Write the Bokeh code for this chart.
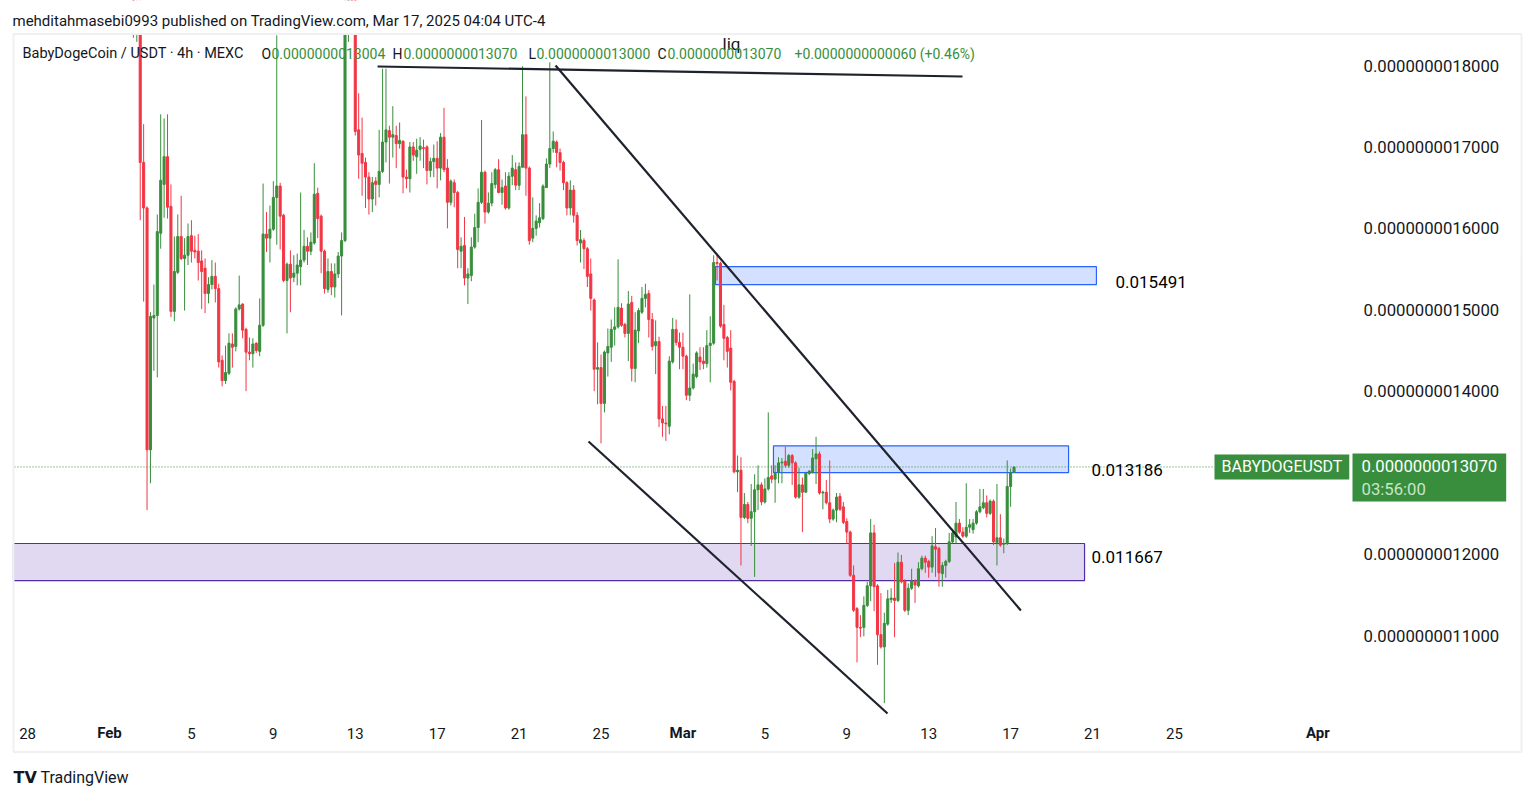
from bokeh.plotting import figure
from bokeh.models import (ColumnDataSource, FixedTicker, CustomJSTickFormatter, Label,
                          Range1d, LinearAxis)
from bokeh.embed import file_html
from bokeh.resources import INLINE
from bokeh.core.properties import value

# ---------------- data (prices in units of 1e-12 USDT, i.e. 1307 = 0.0000000013070) -------------
opens = [
    1880, 1850, 1860, 1681, 1625, 1328, 1490, 1493, 1594, 1654,
    1688, 1627, 1498, 1546, 1590, 1563, 1567, 1591, 1573, 1572,
    1560, 1551, 1520, 1531, 1541, 1526, 1438, 1413, 1422, 1458,
    1455, 1501, 1507, 1476, 1448, 1446, 1459, 1449, 1481, 1593,
    1588, 1599, 1638, 1652, 1616, 1536, 1556, 1540, 1545, 1553,
    1561, 1578, 1572, 1582, 1643, 1615, 1572, 1525, 1547, 1528,
    1544, 1566, 1585, 1870, 1900, 1880, 1721, 1692, 1681, 1663,
    1636, 1658, 1654, 1670, 1706, 1720, 1712, 1714, 1704, 1707,
    1663, 1661, 1700, 1688, 1697, 1699, 1700, 1671, 1682, 1686,
    1674, 1712, 1674, 1632, 1656, 1644, 1572, 1579, 1539, 1542,
    1577, 1601, 1632, 1669, 1620, 1631, 1654, 1672, 1644, 1652,
    1625, 1664, 1672, 1653, 1675, 1715, 1674, 1588, 1600, 1607,
    1612, 1650, 1679, 1698, 1706, 1693, 1681, 1656, 1625, 1647,
    1616, 1582, 1585, 1575, 1544, 1512, 1427, 1429, 1385, 1447,
    1454, 1476, 1479, 1502, 1482, 1471, 1509, 1428, 1474, 1497,
    1514, 1520, 1488, 1456, 1461, 1366, 1361, 1357, 1436, 1476,
    1460, 1454, 1443, 1395, 1404, 1418, 1442, 1437, 1434, 1456,
    1459, 1558, 1557, 1482, 1466, 1453, 1412, 1301, 1303, 1245,
    1261, 1244, 1252, 1279, 1285, 1264, 1280, 1296, 1292, 1301,
    1312, 1314, 1309, 1321, 1312, 1270, 1285, 1276, 1299, 1301,
    1317, 1323, 1275, 1276, 1263, 1243, 1254, 1271, 1258, 1240,
    1227, 1174, 1133, 1110, 1110, 1137, 1161, 1226, 1161, 1101,
    1086, 1114, 1144, 1146, 1143, 1190, 1167, 1131, 1158, 1167,
    1161, 1182, 1195, 1191, 1184, 1209, 1207, 1176, 1186, 1191,
    1215, 1221, 1238, 1227, 1222, 1233, 1230, 1238, 1252, 1257,
    1263, 1250, 1265, 1214, 1220, 1212, 1213, 1283, 1300.4,
]
highs = [
    1900, 1880, 1880, 1728, 1627, 1497, 1531, 1617, 1740, 1735,
    1740, 1654, 1590, 1617, 1640, 1588, 1606, 1610, 1591, 1593,
    1573, 1563, 1540, 1561, 1558, 1532, 1444, 1456, 1471, 1471,
    1503, 1542, 1508, 1478, 1466, 1465, 1460, 1514, 1655, 1620,
    1628, 1658, 1837, 1656, 1618, 1558, 1573, 1567, 1569, 1644,
    1598, 1589, 1595, 1680, 1650, 1617, 1574, 1563, 1557, 1557,
    1571, 1595, 1900, 1960, 1930, 1900, 1766, 1736, 1687, 1669,
    1663, 1663, 1721, 1796, 1796, 1726, 1750, 1726, 1730, 1708,
    1672, 1706, 1706, 1710, 1712, 1709, 1702, 1687, 1703, 1707,
    1717, 1748, 1685, 1660, 1660, 1646, 1589, 1614, 1551, 1589,
    1618, 1649, 1733, 1671, 1644, 1669, 1674, 1685, 1660, 1669,
    1669, 1690, 1681, 1681, 1799, 1762, 1676, 1638, 1616, 1631,
    1654, 1686, 1804, 1719, 1708, 1698, 1683, 1658, 1659, 1653,
    1620, 1598, 1588, 1577, 1563, 1514, 1460, 1445, 1450, 1477,
    1488, 1503, 1562, 1508, 1484, 1523, 1517, 1497, 1502, 1528,
    1532, 1524, 1496, 1487, 1467, 1382, 1382, 1443, 1490, 1488,
    1472, 1472, 1445, 1519, 1434, 1449, 1454, 1454, 1475, 1492,
    1567, 1569, 1559, 1506, 1468, 1475, 1414, 1321, 1319, 1275,
    1264, 1286, 1298, 1309, 1288, 1293, 1374, 1309, 1309, 1319,
    1318, 1332, 1323, 1323, 1314, 1306, 1294, 1301, 1303, 1329,
    1344, 1326, 1278, 1291, 1315, 1256, 1275, 1275, 1264, 1244,
    1229, 1186, 1135, 1125, 1148, 1166, 1243, 1236, 1163, 1152,
    1128, 1156, 1158, 1189, 1202, 1199, 1169, 1164, 1182, 1169,
    1190, 1198, 1198, 1193, 1222, 1232, 1209, 1190, 1193, 1226,
    1231, 1264, 1243, 1233, 1287, 1243, 1243, 1254, 1280, 1280,
    1272, 1267, 1267, 1286, 1249, 1219, 1315, 1305, 1307,
]
lows = [
    1834, 1829, 1610, 1510, 1254, 1287, 1425, 1417, 1575, 1613,
    1612, 1491, 1486, 1544, 1561, 1499, 1555, 1558, 1563, 1536,
    1501, 1496, 1508, 1525, 1509, 1429, 1406, 1409, 1420, 1429,
    1449, 1499, 1465, 1400, 1438, 1429, 1447, 1443, 1479, 1571,
    1558, 1597, 1580, 1574, 1534, 1471, 1497, 1534, 1530, 1530,
    1558, 1555, 1567, 1580, 1588, 1545, 1520, 1521, 1518, 1515,
    1539, 1493, 1583, 1829, 1850, 1714, 1661, 1640, 1625, 1617,
    1620, 1628, 1638, 1668, 1681, 1655, 1687, 1674, 1698, 1643,
    1649, 1644, 1683, 1667, 1683, 1674, 1654, 1663, 1663, 1649,
    1659, 1669, 1600, 1628, 1626, 1551, 1551, 1530, 1507, 1535,
    1575, 1583, 1630, 1606, 1618, 1627, 1649, 1643, 1629, 1623,
    1623, 1653, 1647, 1647, 1675, 1640, 1580, 1583, 1591, 1601,
    1610, 1650, 1674, 1693, 1675, 1671, 1647, 1616, 1616, 1607,
    1579, 1558, 1550, 1528, 1499, 1400, 1384, 1336, 1374, 1418,
    1436, 1456, 1477, 1479, 1466, 1437, 1412, 1411, 1459, 1495,
    1503, 1466, 1450, 1421, 1356, 1344, 1339, 1347, 1434, 1456,
    1427, 1427, 1389, 1388, 1402, 1416, 1426, 1427, 1429, 1411,
    1457, 1536, 1478, 1438, 1429, 1401, 1299, 1276, 1186, 1243,
    1238, 1210, 1172, 1254, 1260, 1262, 1278, 1287, 1263, 1287,
    1287, 1306, 1306, 1285, 1268, 1268, 1227, 1275, 1297, 1299,
    1286, 1273, 1255, 1261, 1238, 1241, 1239, 1253, 1237, 1213,
    1172, 1129, 1067, 1098, 1099, 1135, 1142, 1130, 1064, 1084,
    1017, 1112, 1140, 1098, 1141, 1164, 1129, 1125, 1156, 1140,
    1159, 1180, 1177, 1171, 1177, 1172, 1160, 1160, 1171, 1189,
    1213, 1213, 1225, 1220, 1220, 1226, 1225, 1236, 1250, 1255,
    1245, 1248, 1211, 1186, 1209, 1201, 1211, 1258, 1300,
]
closes = [
    1850, 1860, 1681, 1625, 1328, 1492, 1493, 1596, 1659, 1688,
    1626, 1498, 1547, 1590, 1563, 1567, 1590, 1572, 1571, 1558,
    1547, 1520, 1531, 1541, 1526, 1436, 1413, 1423, 1459, 1454,
    1501, 1506, 1475, 1448, 1446, 1458, 1450, 1481, 1593, 1588,
    1599, 1638, 1652, 1615, 1536, 1556, 1539, 1545, 1555, 1561,
    1578, 1572, 1583, 1642, 1612, 1572, 1526, 1547, 1528, 1544,
    1566, 1585, 1870, 1900, 1880, 1719, 1690, 1680, 1663, 1636,
    1656, 1654, 1670, 1706, 1721, 1712, 1715, 1704, 1708, 1663,
    1661, 1700, 1690, 1696, 1701, 1698, 1671, 1682, 1686, 1674,
    1712, 1672, 1632, 1658, 1644, 1574, 1578, 1539, 1544, 1577,
    1601, 1632, 1669, 1620, 1631, 1655, 1672, 1644, 1650, 1625,
    1664, 1674, 1653, 1676, 1715, 1674, 1585, 1600, 1609, 1613,
    1652, 1679, 1698, 1707, 1693, 1681, 1656, 1625, 1647, 1616,
    1585, 1586, 1575, 1541, 1514, 1427, 1429, 1385, 1448, 1455,
    1476, 1479, 1503, 1481, 1471, 1507, 1428, 1475, 1499, 1514,
    1519, 1488, 1455, 1461, 1366, 1361, 1360, 1437, 1476, 1460,
    1454, 1443, 1395, 1404, 1421, 1447, 1436, 1434, 1456, 1459,
    1558, 1557, 1480, 1465, 1449, 1411, 1301, 1303, 1245, 1261,
    1244, 1252, 1279, 1285, 1264, 1280, 1294, 1292, 1299, 1312,
    1313, 1309, 1321, 1312, 1270, 1285, 1276, 1299, 1302, 1318,
    1323, 1275, 1276, 1263, 1243, 1254, 1270, 1255, 1239, 1227,
    1174, 1131, 1110, 1109, 1137, 1161, 1226, 1160, 1101, 1086,
    1115, 1145, 1146, 1143, 1190, 1166, 1131, 1158, 1167, 1162,
    1182, 1195, 1190, 1184, 1210, 1206, 1177, 1186, 1191, 1215,
    1226, 1238, 1227, 1222, 1233, 1236, 1238, 1252, 1258, 1263,
    1250, 1265, 1215, 1220, 1211, 1213, 1283, 1300, 1307,
]

# time axis: days counted from Feb 1 00:00 (UTC-4)
last_bar_day = 44 + 4 / 24          # Mar 17 04:00
bar_len_day = 4 / 24                # 4h candles
day_ticks = [-4, 4, 8, 12, 16, 20, 24, 32, 36, 40, 44, 48, 52]
day_labels = ["28", "5", "9", "13", "17", "21", "25", "5", "9", "13", "17", "21", "25"]
month_ticks = [0, 28, 59]
month_labels = ["Feb", "Mar", "Apr"]
price_ticks = [1100, 1200, 1400, 1500, 1600, 1700, 1800]

# drawings (day, price)
zone_left = [29.59, 32.42, -4.69]
zone_right = [48.19, 46.83, 47.61]
zone_top = [1553, 1333, 1213]
zone_bottom = [1531, 1300, 1167.5]
zone_fill = ["#2962ff", "#2962ff", "#673ab7"]
zone_line = ["#2962ff", "#2962ff", "#512da8"]
level_text = ["0.015491", "0.013186", "0.011667"]
level_x = [49.12, 47.95, 47.95]
level_y = [1534.7, 1303.8, 1197.0]
trend_x0 = [13.09, 21.78, 23.39]
trend_y0 = [1798.8, 1800, 1338.3]
trend_x1 = [41.65, 44.50, 37.99]
trend_y1 = [1786.5, 1130.7, 1004.2]
last_price = 1307

FONT = "Roboto"
TXT = "#131722"
UP = "#388e3c"
DOWN = "#f23645"

# canvas geometry: the frame covers the whole canvas; pane/price scale/time scale live inside it
W, H = 1530, 794
PX_DAY = 20.48          # px per day
PX_PRICE = 0.8143       # px per 1e-12
FEB1_PX, P1800_PY = 109, 65


def dx(px):  # screen px -> day
    return (px - FEB1_PX) / PX_DAY


def dy(py):  # screen py -> price
    return 1800 - (py - P1800_PY) / PX_PRICE


n = min(len(opens), len(highs), len(lows), len(closes))
xs = [last_bar_day - (n - 1 - i) * bar_len_day for i in range(n)]
src = ColumnDataSource(dict(
    x=xs, o=opens[:n], h=highs[:n], l=lows[:n], c=closes[:n],
    top=[max(o, c) for o, c in zip(opens[:n], closes[:n])],
    bot=[min(o, c) for o, c in zip(opens[:n], closes[:n])],
    color=[UP if c >= o else DOWN for o, c in zip(opens[:n], closes[:n])],
))

p = figure(width=W, height=H, x_range=Range1d(dx(0), dx(W)), y_range=Range1d(dy(H), dy(0)),
           y_axis_location="right", output_backend="svg", toolbar_location=None,
           min_border=0, min_border_left=0, min_border_right=0, min_border_top=0,
           min_border_bottom=0, background_fill_color="white", border_fill_color="white",
           outline_line_color=None)
p.grid.visible = False

# axes (pinned at the pane edges)
p.yaxis.fixed_location = dx(1351)
p.yaxis.ticker = FixedTicker(ticks=price_ticks)
p.yaxis.formatter = CustomJSTickFormatter(code="return (tick*1e-12).toFixed(13);")
p.xaxis.fixed_location = dy(715)
p.xaxis.ticker = FixedTicker(ticks=day_ticks)
p.xaxis.formatter = CustomJSTickFormatter(
    args=dict(labels={str(t): s for t, s in zip(day_ticks, day_labels)}),
    code="const k = String(Math.round(tick)); return (k in labels) ? labels[k] : '';")
month_axis = LinearAxis(fixed_location=dy(715), ticker=FixedTicker(ticks=month_ticks),
                        formatter=CustomJSTickFormatter(
                            args=dict(labels={str(t): s for t, s in zip(month_ticks, month_labels)}),
                            code="const k = String(Math.round(tick)); return (k in labels) ? labels[k] : '';"))
p.add_layout(month_axis, "below")
for ax in (p.xaxis[0], month_axis, p.yaxis[0]):
    ax.axis_line_color = None
    ax.major_tick_line_color = None
    ax.minor_tick_line_color = None
    ax.major_tick_out = 0
    ax.major_tick_in = 0
    ax.minor_tick_out = 0
    ax.minor_tick_in = 0
    ax.major_label_text_font = FONT
    ax.major_label_text_color = TXT
p.yaxis.major_label_text_font_size = "16.7px"
p.yaxis.major_label_standoff = 12
for ax in (p.xaxis[0], month_axis):
    ax.major_label_text_font_size = "15px"
p.xaxis[0].major_label_standoff = 12
month_axis.major_label_standoff = 8
month_axis.major_label_text_font_style = "bold"

# zones
p.quad(left=zone_left, right=zone_right, top=zone_top, bottom=zone_bottom,
       fill_color=zone_fill, fill_alpha=0.2, line_color=zone_line, line_width=1.2)

# current price dotted line (stops at the symbol badge)
p.segment(x0=[dx(14)], y0=[last_price], x1=[dx(1214)], y1=[last_price],
          line_color=UP, line_dash="1 2", line_width=1)

# candles
p.segment(x0="x", y0="l", x1="x", y1="h", line_color="color", line_width=1, source=src)
p.vbar(x="x", width=0.1, top="top", bottom="bot", fill_color="color",
       line_color="color", line_width=1, source=src)

# trend lines
p.segment(x0=trend_x0, y0=trend_y0, x1=trend_x1, y1=trend_y1,
          line_color="#1e222d", line_width=2.2)

# "liq" note, cut by the top of the pane
p.text(x=[dx(731)], y=[dy(43)], text=["liq"], text_font=value(FONT), text_font_size="17px",
       text_color=TXT, text_align="center", text_baseline="alphabetic")

# pane top edge: hide what lies above the visible price range, then the pane border
p.quad(left=[dx(-10)], right=[dx(W + 10)], top=[dy(-10)], bottom=[dy(33.5)],
       fill_color="white", line_color=None)
p.quad(left=[dx(13)], right=[dx(1521)], top=[dy(33.5)], bottom=[dy(751.5)],
       fill_color=None, line_color="#eef0f4", line_width=2)

# level labels
for t, lx, ly in zip(level_text, level_x, level_y):
    p.add_layout(Label(x=lx, y=ly, text=t, text_font=FONT, text_font_size="17px",
                       text_color="#000000", text_baseline="middle", text_align="left"))

# legend header inside the pane
hdr_y = dy(53)
p.add_layout(Label(x=dx(22), y=hdr_y, text="BabyDogeCoin / USDT · 4h · MEXC",
                   text_font=FONT, text_font_size="14.5px", text_color=TXT,
                   text_baseline="middle"))
hdr_parts = [("O", 261, "0.0000000013004", 271),
             ("H", 392, "0.0000000013070", 403),
             ("L", 528, "0.0000000013000", 536),
             ("C", 657, "0.0000000013070", 667)]
for k, kx, v, vx in hdr_parts:
    p.add_layout(Label(x=dx(kx), y=hdr_y, text=k, text_font=FONT, text_font_size="14px",
                       text_color=TXT, text_baseline="middle"))
    p.add_layout(Label(x=dx(vx), y=hdr_y, text=v, text_font=FONT, text_font_size="14px",
                       text_color=UP, text_baseline="middle"))
p.add_layout(Label(x=dx(794), y=hdr_y, text="+0.0000000000060 (+0.46%)", text_font=FONT,
                   text_font_size="14px", text_color=UP, text_baseline="middle"))

# publisher line and logo
p.add_layout(Label(x=dx(12), y=dy(20.5),
                   text="mehditahmasebi0993 published on TradingView.com, Mar 17, 2025 04:04 UTC-4",
                   text_font=FONT, text_font_size="15px", text_color=TXT, text_baseline="middle"))
p.add_layout(Label(x=dx(13), y=dy(777), text="TV", text_font="DejaVu Sans", text_font_size="16px",
                   text_font_style="bold", text_color=TXT, text_baseline="middle"))
p.add_layout(Label(x=dx(40), y=dy(777), text="TradingView", text_font=FONT, text_font_size="16px",
                   text_color=TXT, text_baseline="middle"))

# last price badges
p.add_layout(Label(x=dx(1214), y=last_price, text="BABYDOGEUSDT", text_font=FONT,
                   text_font_size="16px", text_color="white", text_baseline="middle",
                   background_fill_color=UP, padding=(7, 3)))
p.add_layout(Label(x=dx(1352), y=dy(477), text="0.0000000013070\n ", text_font=FONT,
                   text_font_size="16.7px", text_color="white", text_baseline="middle",
                   background_fill_color=UP, padding=(9, 3)))
p.add_layout(Label(x=dx(1361), y=dy(489), text="03:56:00", text_font=FONT,
                   text_font_size="16.7px", text_color="#c8e6c9", text_baseline="middle"))

open("out.html", "w").write(file_html(p, INLINE))
